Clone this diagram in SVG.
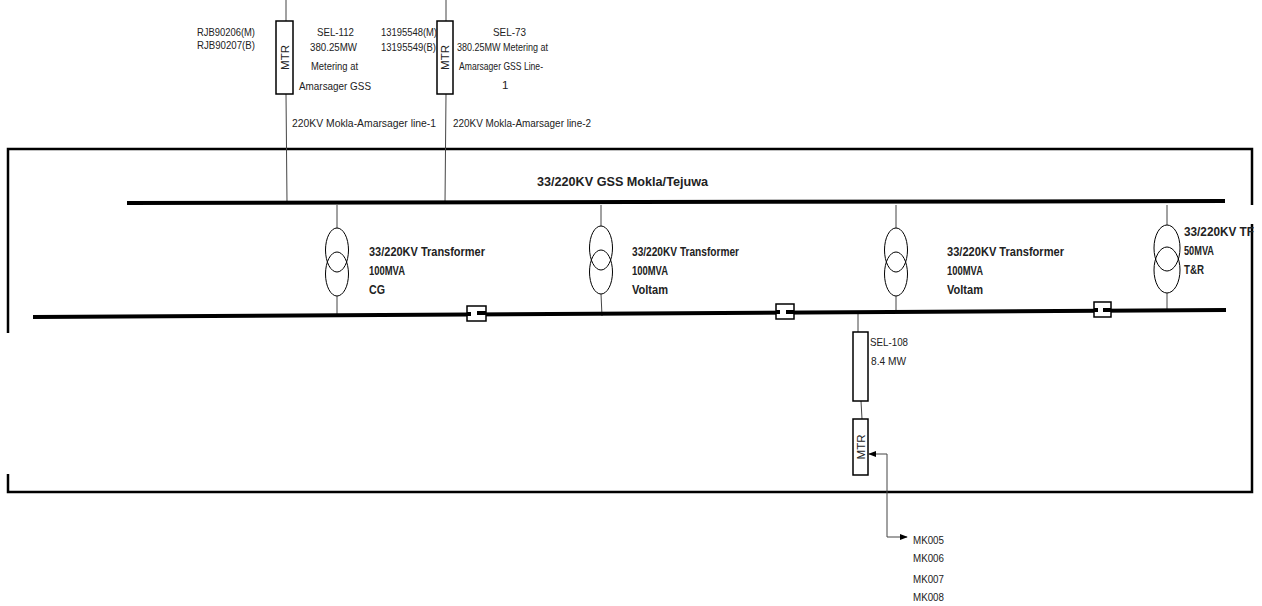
<svg xmlns="http://www.w3.org/2000/svg" width="1262" height="606" viewBox="0 0 1262 606">
<style>
.t{font-family:"Liberation Sans",Arial,sans-serif;font-size:11.5px;fill:#222}
.b{font-family:"Liberation Sans",Arial,sans-serif;font-size:12px;font-weight:bold;fill:#222}
.frame{stroke:#000;stroke-width:2.5;fill:none}
.bus{stroke:#000;stroke-width:4;fill:none}
.thin{stroke:#444;stroke-width:1;fill:none}
.box{fill:#fff;stroke:#000;stroke-width:1.5}
.tx{fill:none;stroke:#000;stroke-width:1}
</style>
<defs>
<marker id="arr" viewBox="0 0 10 10" refX="9" refY="5" markerWidth="8" markerHeight="8" markerUnits="userSpaceOnUse" orient="auto">
<path d="M0,1 L10,5 L0,9 z" fill="#000"/>
</marker>
</defs>
<rect width="1262" height="606" fill="#fff"/>

<g id="frame">
<path class="frame" d="M8,333 V149 H1252 V205 M1252,224 V492 H8 V474"/>
</g>

<g id="connectors">
<line class="thin" x1="286" y1="0" x2="286" y2="21"/>
<line class="thin" x1="286" y1="94" x2="287" y2="203"/>
<line class="thin" x1="446" y1="0" x2="446" y2="21"/>
<line class="thin" x1="446" y1="94" x2="445" y2="203"/>
<line class="thin" x1="337" y1="205" x2="337" y2="228"/>
<line class="thin" x1="337" y1="296" x2="337" y2="314"/>
<line class="thin" x1="601" y1="205" x2="601" y2="226"/>
<line class="thin" x1="601" y1="294" x2="602" y2="316"/>
<line class="thin" x1="896" y1="205" x2="896" y2="228"/>
<line class="thin" x1="896" y1="296" x2="896" y2="311"/>
<line class="thin" x1="1167" y1="205" x2="1167" y2="225"/>
<line class="thin" x1="1167" y1="293" x2="1167" y2="310"/>
<line class="thin" x1="858" y1="312" x2="858" y2="332"/>
<line class="thin" x1="861" y1="401" x2="862" y2="419"/>
<polyline class="thin" points="887,454 869,454" marker-end="url(#arr)"/>
<polyline class="thin" points="887,454 887,537 907,537" marker-end="url(#arr)"/>
</g>

<g id="bus-220kv">
<line class="bus" x1="127" y1="203" x2="1225" y2="201"/>
<text class="b" x="537" y="186" textLength="171" lengthAdjust="spacingAndGlyphs">33/220KV GSS Mokla/Tejuwa</text>
</g>

<g id="bus-33kv">
<line class="bus" x1="33" y1="317" x2="1226" y2="310"/>
</g>

<g id="breaker-1">
<rect class="box" x="467" y="306" width="19" height="15"/>
<rect x="467" y="312" width="4" height="4" fill="#000"/>
<rect x="477" y="311" width="9" height="4" fill="#000"/>
</g>
<g id="breaker-2">
<rect class="box" x="776" y="304" width="18" height="15"/>
<rect x="776" y="310" width="4" height="4" fill="#000"/>
<rect x="786" y="310" width="8" height="4" fill="#000"/>
</g>
<g id="breaker-3">
<rect class="box" x="1094" y="302" width="17" height="15"/>
<rect x="1094" y="308" width="4" height="4" fill="#000"/>
<rect x="1103" y="308" width="8" height="4" fill="#000"/>
</g>

<g id="mtr-1">
<rect class="box" x="276" y="21" width="17" height="73"/>
<text class="t" transform="translate(288.5,57.5) rotate(-90)" text-anchor="middle" font-size="10.5">MTR</text>
<text class="t" x="197" y="36" textLength="58" lengthAdjust="spacingAndGlyphs">RJB90206(M)</text>
<text class="t" x="197" y="49" textLength="58" lengthAdjust="spacingAndGlyphs">RJB90207(B)</text>
<text class="t" x="317" y="36" textLength="37" lengthAdjust="spacingAndGlyphs">SEL-112</text>
<text class="t" x="310" y="51" textLength="47" lengthAdjust="spacingAndGlyphs">380.25MW</text>
<text class="t" x="311" y="70" textLength="47" lengthAdjust="spacingAndGlyphs">Metering at</text>
<text class="t" x="299" y="90" textLength="72" lengthAdjust="spacingAndGlyphs">Amarsager GSS</text>
<text class="t" x="292" y="127" textLength="144" lengthAdjust="spacingAndGlyphs">220KV Mokla-Amarsager line-1</text>
</g>

<g id="mtr-2">
<rect class="box" x="437" y="21" width="16" height="73"/>
<text class="t" transform="translate(449,57.5) rotate(-90)" text-anchor="middle" font-size="10.5">MTR</text>
<text class="t" x="381" y="36" textLength="56" lengthAdjust="spacingAndGlyphs">13195548(M)</text>
<text class="t" x="381" y="51" textLength="55" lengthAdjust="spacingAndGlyphs">13195549(B)</text>
<text class="t" x="493" y="36" textLength="33" lengthAdjust="spacingAndGlyphs">SEL-73</text>
<text class="t" x="457" y="51" textLength="91" lengthAdjust="spacingAndGlyphs">380.25MW Metering at</text>
<text class="t" x="459" y="70" textLength="84" lengthAdjust="spacingAndGlyphs">Amarsager GSS  Line-</text>
<text class="t" x="502" y="89">1</text>
<text class="t" x="453" y="127" textLength="138" lengthAdjust="spacingAndGlyphs">220KV Mokla-Amarsager line-2</text>
</g>

<g id="transformer-1">
<ellipse class="tx" cx="337" cy="250" rx="11.5" ry="22"/>
<ellipse class="tx" cx="337" cy="274" rx="11.5" ry="22"/>
<text class="b" x="369" y="256" textLength="116" lengthAdjust="spacingAndGlyphs">33/220KV Transformer</text>
<text class="b" x="369" y="275" textLength="36" lengthAdjust="spacingAndGlyphs">100MVA</text>
<text class="b" x="369" y="294" textLength="16" lengthAdjust="spacingAndGlyphs">CG</text>
</g>

<g id="transformer-2">
<ellipse class="tx" cx="601" cy="248" rx="11.5" ry="22"/>
<ellipse class="tx" cx="601" cy="272" rx="11.5" ry="22"/>
<text class="b" x="632" y="256" textLength="107" lengthAdjust="spacingAndGlyphs">33/220KV Transformer</text>
<text class="b" x="632" y="275" textLength="36" lengthAdjust="spacingAndGlyphs">100MVA</text>
<text class="b" x="632" y="294" textLength="36" lengthAdjust="spacingAndGlyphs">Voltam</text>
</g>

<g id="transformer-3">
<ellipse class="tx" cx="896" cy="250" rx="11.5" ry="22"/>
<ellipse class="tx" cx="896" cy="274" rx="11.5" ry="22"/>
<text class="b" x="947" y="256" textLength="117" lengthAdjust="spacingAndGlyphs">33/220KV Transformer</text>
<text class="b" x="947" y="275" textLength="36" lengthAdjust="spacingAndGlyphs">100MVA</text>
<text class="b" x="947" y="294" textLength="36" lengthAdjust="spacingAndGlyphs">Voltam</text>
</g>

<g id="transformer-4">
<ellipse class="tx" cx="1167" cy="248" rx="13" ry="23"/>
<ellipse class="tx" cx="1167" cy="270" rx="13" ry="23"/>
<text class="b" x="1184" y="236" textLength="70" lengthAdjust="spacingAndGlyphs">33/220KV TF</text>
<text class="b" x="1184" y="255" textLength="30" lengthAdjust="spacingAndGlyphs">50MVA</text>
<text class="b" x="1184" y="274" textLength="20" lengthAdjust="spacingAndGlyphs">T&amp;R</text>
</g>

<g id="sel-108">
<rect class="box" x="853" y="332" width="15" height="69"/>
<text class="t" x="870" y="346" textLength="38" lengthAdjust="spacingAndGlyphs">SEL-108</text>
<text class="t" x="871" y="365" textLength="35" lengthAdjust="spacingAndGlyphs">8.4 MW</text>
</g>

<g id="mtr-3">
<rect class="box" x="853" y="419" width="15" height="56"/>
<text class="t" transform="translate(864.5,447) rotate(-90)" text-anchor="middle" font-size="10.5">MTR</text>
</g>

<g id="meters">
<text class="t" x="913" y="544" textLength="31" lengthAdjust="spacingAndGlyphs">MK005</text>
<text class="t" x="913" y="562" textLength="31" lengthAdjust="spacingAndGlyphs">MK006</text>
<text class="t" x="913" y="583" textLength="31" lengthAdjust="spacingAndGlyphs">MK007</text>
<text class="t" x="913" y="601" textLength="31" lengthAdjust="spacingAndGlyphs">MK008</text>
</g>
</svg>
